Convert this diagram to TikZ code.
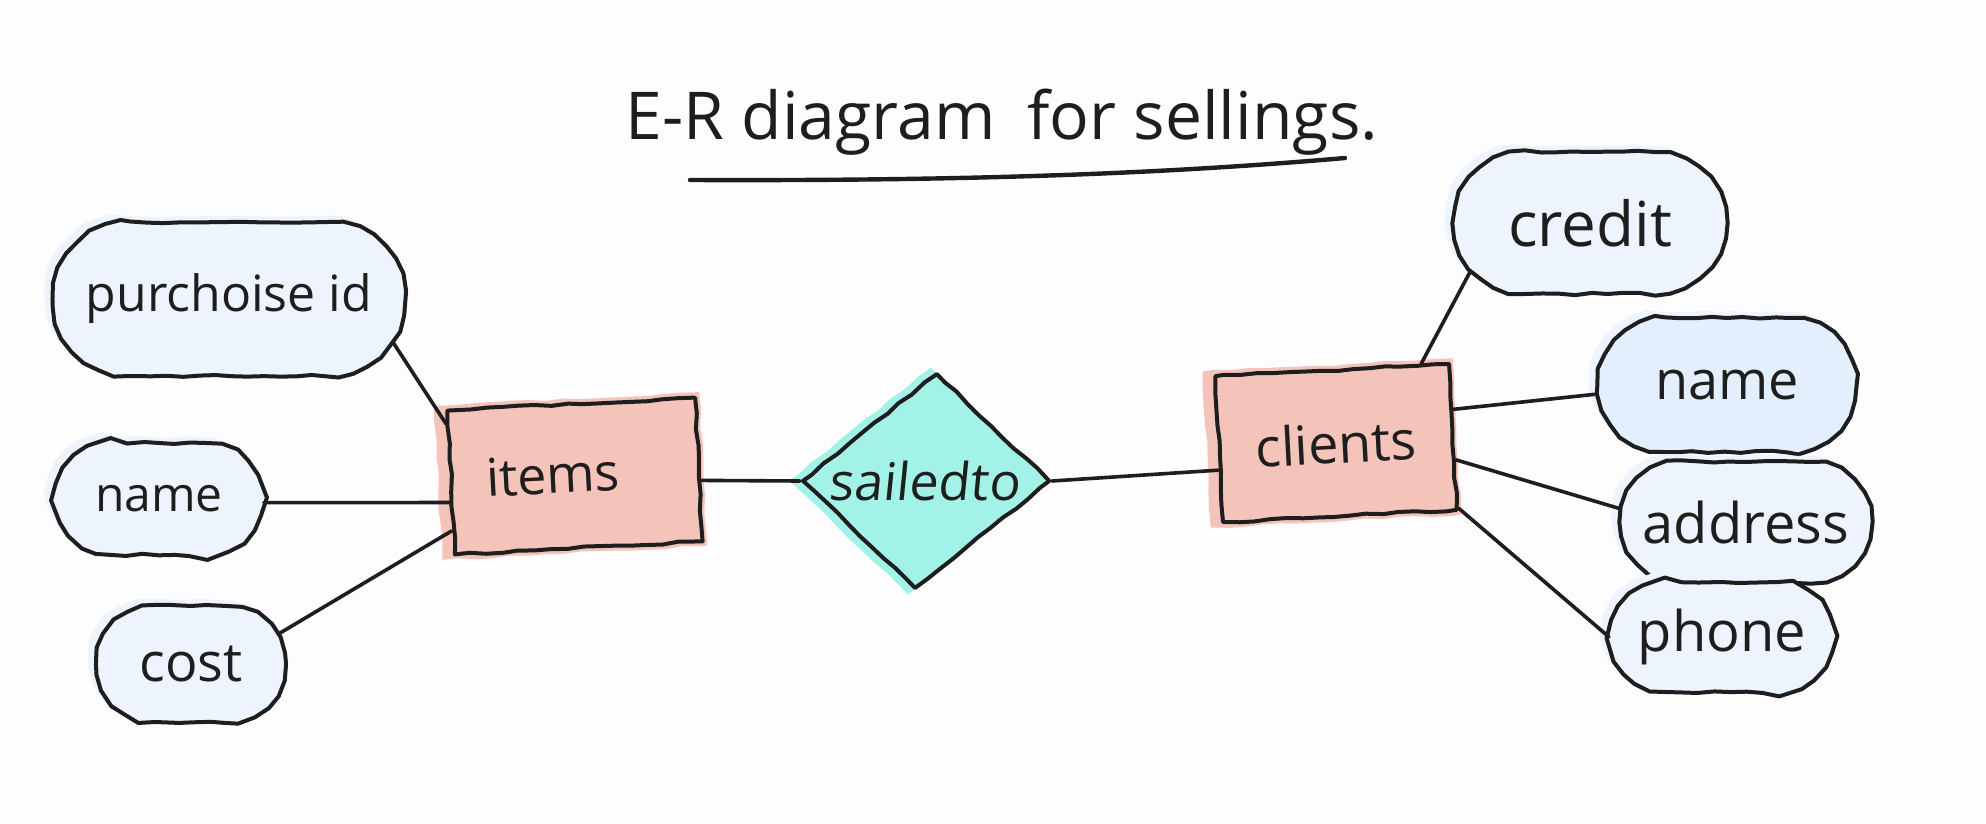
\documentclass[tikz,border=0pt]{standalone}
\usepackage{fontspec}
\setmainfont{Open Sans}
\usetikzlibrary{shapes.misc,shapes.geometric,shadows,decorations.pathmorphing}
\definecolor{ink}{HTML}{1E1E1E}
\definecolor{attrfill}{HTML}{EDF4FD}
\definecolor{attrfillb}{HTML}{E3EFFC}
\definecolor{entfill}{HTML}{F4C4BA}
\definecolor{relfill}{HTML}{A2F2E8}
\definecolor{bg}{HTML}{FDFDFD}
\pgfmathsetseed{11}
\begin{document}
\begin{tikzpicture}[x=0.5pt,y=-0.5pt,
  hand/.style={decorate, decoration={random steps, segment length=8pt, amplitude=0.6pt}},
  attr/.style={shape=rounded rectangle, draw=ink, line width=2pt, line join=round, fill=attrfill, text=ink,
    inner sep=0pt, font=\fontsize{27}{29}\selectfont, hand,
    general shadow={fill=attrfill, draw=none, shadow xshift=-4pt, shadow yshift=3pt}},
  entity/.style={rectangle, draw=ink, line width=2pt, line join=round, fill=entfill, text=ink,
    inner sep=0pt, font=\fontsize{26}{28}\selectfont, hand,
    general shadow={fill=entfill, draw=none, shadow scale=1.07, shadow xshift=-2pt}},
  rel/.style={diamond, draw=ink, line width=2pt, line join=round, fill=relfill, text=ink, inner sep=0pt,
    aspect=1.2, font=\fontsize{26}{28}\selectfont, hand,
    general shadow={fill=relfill, draw=none, shadow scale=1.06, shadow xshift=-3pt}},
  link/.style={draw=ink, line width=1.8pt, line cap=round}]

\fill[bg] (0,0) rectangle (1986,824);
\useasboundingbox (0,0) rectangle (1986,824);

% title
\node[font=\fontsize{33}{38}\selectfont, anchor=base, text=ink, inner sep=0pt] (title) at (1002,140) {E-R diagram\hspace{16pt}for sellings.};
\coordinate (ulA) at (690,180);
\coordinate (ulB) at (1345,158);
\draw[ink, line width=2.2pt, line cap=round] (ulA) .. controls (950,181) and (1150,175) .. (ulB);

% attributes of items
\node[attr, font=\fontsize{25}{27}\selectfont, minimum width=176pt, minimum height=77pt] (pid) at (229,299) {purchoise id};
\node[attr, font=\fontsize{24}{26}\selectfont, minimum width=103pt, minimum height=56pt] (nameL) at (159,499) {name};
\node[attr, minimum width=94pt, minimum height=58pt] (cost) at (191,664) {cost};

% entities and relationship
\node[entity, minimum width=124pt, minimum height=72pt, rotate=3] (items) at (575,476) {\hspace*{-22pt}\raisebox{3pt}{items}};
\node[rel, minimum width=124pt, minimum height=108pt, xslant=0.1] (sail) at (926,481) {sailedto};
\node[entity, font=\fontsize{27}{29}\selectfont, minimum width=117pt, minimum height=73pt, rotate=3] (clients) at (1336,443) {clients};

% attributes of clients
\node[attr, font=\fontsize{31}{33}\selectfont, minimum width=136pt, minimum height=71pt] (credit) at (1590,223) {credit};
\node[attr, fill=attrfillb, minimum width=129pt, minimum height=67pt] (nameR) at (1727,385) {name};
\node[attr, font=\fontsize{28}{30}\selectfont, minimum width=125pt, minimum height=60pt] (address) at (1746,522) {address};
\node[attr, font=\fontsize{28}{30}\selectfont, minimum width=111pt, minimum height=55pt] (phone) at (1722,637) {phone};

% connectors
\draw[link] (pid.-15) -- (items.155);
\draw[link] (nameL.-2) -- (items.189);
\draw[link] (cost.19) -- (items.201);
\draw[link] (items.-5) -- (sail.west);
\draw[link] (sail.east) -- (clients.190);
\draw[link] (clients.40) -- (credit.202);
\draw[link] (clients.13) -- (nameR.184);
\draw[link] (clients.-11) -- (address.174);
\draw[link] (clients.-31) -- (phone.180);
\end{tikzpicture}
\end{document}
